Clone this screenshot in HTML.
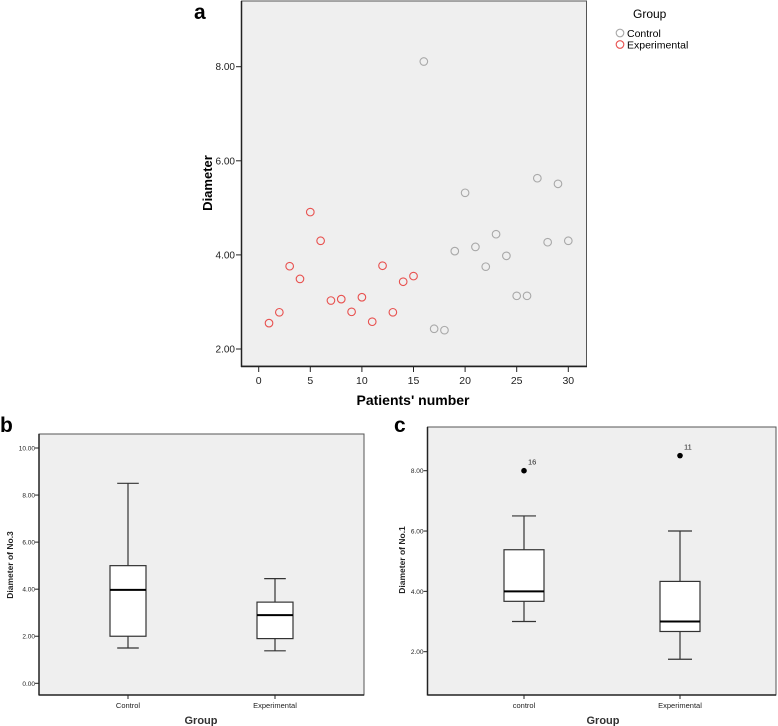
<!DOCTYPE html>
<html><head><meta charset="utf-8"><style>
html,body{margin:0;padding:0;background:#fff}
svg{display:block;font-family:"Liberation Sans",Arial,sans-serif}
</style></head><body>
<svg id="fig" width="778" height="726" viewBox="0 0 778 726" xmlns="http://www.w3.org/2000/svg"></svg>
<script>
// Panel a data
const patientNums = [1,2,3,4,5,6,7,8,9,10,11,12,13,14,15,16,17,18,19,20,21,22,23,24,25,26,27,28,29,30];
const diameters = [2.55,2.78,3.76,3.49,4.91,4.30,3.03,3.06,2.79,3.10,2.58,3.77,2.78,3.43,3.55,8.11,2.43,2.40,4.08,5.32,4.17,3.75,4.44,3.98,3.13,3.13,5.63,4.27,5.51,4.30];
const groups = ["Experimental","Experimental","Experimental","Experimental","Experimental","Experimental","Experimental","Experimental","Experimental","Experimental","Experimental","Experimental","Experimental","Experimental","Experimental","Control","Control","Control","Control","Control","Control","Control","Control","Control","Control","Control","Control","Control","Control","Control"];
const aXTicks = [0,5,10,15,20,25,30];
const aYTicks = [2,4,6,8];
// Panel b data
const bCategories = ["Control","Experimental"];
const bMin = [1.5,1.38];
const bQ1 = [2.0,1.9];
const bMed = [3.97,2.9];
const bQ3 = [5.0,3.45];
const bMax = [8.5,4.45];
const bYTicks = [0,2,4,6,8,10];
// Panel c data
const cCategories = ["control","Experimental"];
const cMin = [3.0,1.75];
const cQ1 = [3.67,2.67];
const cMed = [4.0,3.0];
const cQ3 = [5.38,4.33];
const cMax = [6.5,6.0];
const cOutliers = [8.0,8.5];
const cOutlierIds = ["16","11"];
const cYTicks = [2,4,6,8];

const svg = document.getElementById('fig');
const NS = 'http://www.w3.org/2000/svg';
function mk(tag, attrs, parent, text){
  const e = document.createElementNS(NS, tag);
  for (const k in attrs) e.setAttribute(k, attrs[k]);
  if (text !== undefined) e.textContent = text;
  (parent||svg).appendChild(e);
  return e;
}
function lin(d0,d1,r0,r1){return v => r0 + (v-d0)*(r1-r0)/(d1-d0);}

// ---------- Panel a ----------
const gA = mk('g',{});


const ax = lin(0,30,258.7,568.3), ay = lin(2,8,349,66.7);
let t = mk('text',{x:194,y:19,'font-size':21,'font-weight':'bold'},gA,'a');
 
let r = mk('rect',{x:241.5,y:1,width:345,height:365,fill:'#efefef',stroke:'#555','stroke-width':1},gA);
 
mk('line',{x1:241.5,y1:1,x2:241.5,y2:367,stroke:'#222','stroke-width':1.5},gA);
mk('line',{x1:241,y1:366.5,x2:587,y2:366.5,stroke:'#222','stroke-width':1.5},gA);
aYTicks.forEach(v=>{
  mk('line',{x1:236,x2:241,y1:ay(v),y2:ay(v),stroke:'#222'},gA);
  const l = mk('text',{x:235,y:ay(v)+3.5,'font-size':10,'text-anchor':'end',fill:'#222'},gA,v.toFixed(2));
   
});
aXTicks.forEach(v=>{
  mk('line',{x1:ax(v),x2:ax(v),y1:367,y2:372,stroke:'#222'},gA);
  const l = mk('text',{x:ax(v),y:384,'font-size':10.5,'text-anchor':'middle',fill:'#222'},gA,String(v));
   
});
t = mk('text',{x:413,y:405,'font-size':14,'font-weight':'bold','text-anchor':'middle'},gA,"Patients' number");
 
t = mk('text',{x:0,y:0,'font-size':13,'font-weight':'bold','text-anchor':'middle',transform:'translate(212,183) rotate(-90)'},gA,'Diameter');
 
patientNums.forEach((p,i)=>{
  const c = mk('circle',{cx:ax(p),cy:ay(diameters[i]),r:3.8,fill:'none',stroke:groups[i]==='Control'?'#a8a8a8':'#e8504e','stroke-width':1.1},gA);
  
  
});
// legend
const gL = mk('g',{},gA);
 
mk('text',{x:633,y:18,'font-size':12},gL,'Group');
let le = mk('g',{},gL);
 
mk('circle',{cx:620,cy:33,r:3.8,fill:'none',stroke:'#a8a8a8','stroke-width':1.1},le);
mk('text',{x:627,y:37,'font-size':10.5},le,'Control');
le = mk('g',{},gL);
 
mk('circle',{cx:620,cy:44.5,r:3.8,fill:'none',stroke:'#e8504e','stroke-width':1.1},le);
mk('text',{x:627,y:48.5,'font-size':10.5},le,'Experimental');

// ---------- Box plot helper ----------
function boxPanel(o){
  const g = mk('g',{});
  
  
  let lt = mk('text',{x:o.labelX,y:o.labelY,'font-size':21,'font-weight':'bold'},g,o.letter);
   
  const rr = mk('rect',{x:o.x0,y:o.y0,width:o.x1-o.x0,height:o.y1-o.y0,fill:'#efefef',stroke:'#555'},g);
   
  mk('line',{x1:o.x0,y1:o.y0,x2:o.x0,y2:o.y1+0.5,stroke:'#222','stroke-width':1.5},g);
  mk('line',{x1:o.x0,y1:o.y1,x2:o.x1,y2:o.y1,stroke:'#222','stroke-width':1.5},g);
  const y = o.y;
  o.yTicks.forEach(v=>{
    mk('line',{x1:o.x0-4,x2:o.x0,y1:y(v),y2:y(v),stroke:'#222'},g);
    const l = mk('text',{x:o.x0-4,y:y(v)+2.5,'font-size':6.5,'text-anchor':'end',fill:'#222'},g,v.toFixed(2));
     
  });
  o.cats.forEach((c,i)=>{
    const cx = o.cx[i], w = o.bw, hw = w/2, cap = w*0.3;
    mk('line',{x1:cx,x2:cx,y1:o.y1,y2:o.y1+4,stroke:'#222'},g);
    const l = mk('text',{x:cx,y:o.y1+13,'font-size':7.5,'text-anchor':'middle',fill:'#222'},g,c);
     
    const bg = mk('g',{},g);
    
    
    mk('line',{x1:cx,x2:cx,y1:y(o.max[i]),y2:y(o.q3[i]),stroke:'#333','stroke-width':1.2},bg);
    mk('line',{x1:cx,x2:cx,y1:y(o.q1[i]),y2:y(o.min[i]),stroke:'#333','stroke-width':1.2},bg);
    mk('line',{x1:cx-cap,x2:cx+cap,y1:y(o.max[i]),y2:y(o.max[i]),stroke:'#333','stroke-width':1.2},bg);
    mk('line',{x1:cx-cap,x2:cx+cap,y1:y(o.min[i]),y2:y(o.min[i]),stroke:'#333','stroke-width':1.2},bg);
    mk('rect',{x:cx-hw,y:y(o.q3[i]),width:w,height:y(o.q1[i])-y(o.q3[i]),fill:'#fff',stroke:'#333','stroke-width':1.2},bg);
    mk('line',{x1:cx-hw,x2:cx+hw,y1:y(o.med[i]),y2:y(o.med[i]),stroke:'#000','stroke-width':2},bg);
    if (o.out){
      const d = mk('circle',{cx:cx,cy:y(o.out[i]),r:2.8,fill:'#000'},bg);
       
      mk('text',{x:cx+4,y:y(o.out[i])-6,'font-size':7.5,fill:'#222'},bg,o.outIds[i]);
    }
  });
  let xt = mk('text',{x:o.xTitleX,y:724,'font-size':11,'font-weight':'bold','text-anchor':'middle',fill:'#333'},g,'Group');
   
  let yt = mk('text',{x:0,y:0,'font-size':8.5,'font-weight':'bold','text-anchor':'middle',fill:'#222',transform:'translate('+o.yTitleX+','+o.yTitleY+') rotate(-90)'},g,o.yTitle);
   
}
boxPanel({name:'boxplot-panel-b',letter:'b',labelX:0,labelY:432,x0:39,y0:434,x1:364,y1:695,
  y:lin(0,10,683.3,448),yTicks:bYTicks,cats:bCategories,cx:[128,275],bw:36,
  min:bMin,q1:bQ1,med:bMed,q3:bQ3,max:bMax,xTitleX:201,yTitle:'Diameter of No.3',yTitleX:13,yTitleY:565});
boxPanel({name:'boxplot-panel-c',letter:'c',labelX:394,labelY:432,x0:427.5,y0:427,x1:776,y1:695,
  y:lin(2,8,651.7,470.7),yTicks:cYTicks,cats:cCategories,cx:[524,680],bw:40,
  min:cMin,q1:cQ1,med:cMed,q3:cQ3,max:cMax,out:cOutliers,outIds:cOutlierIds,xTitleX:603,yTitle:'Diameter of No.1',yTitleX:405,yTitleY:560});
</script>
</body></html>
